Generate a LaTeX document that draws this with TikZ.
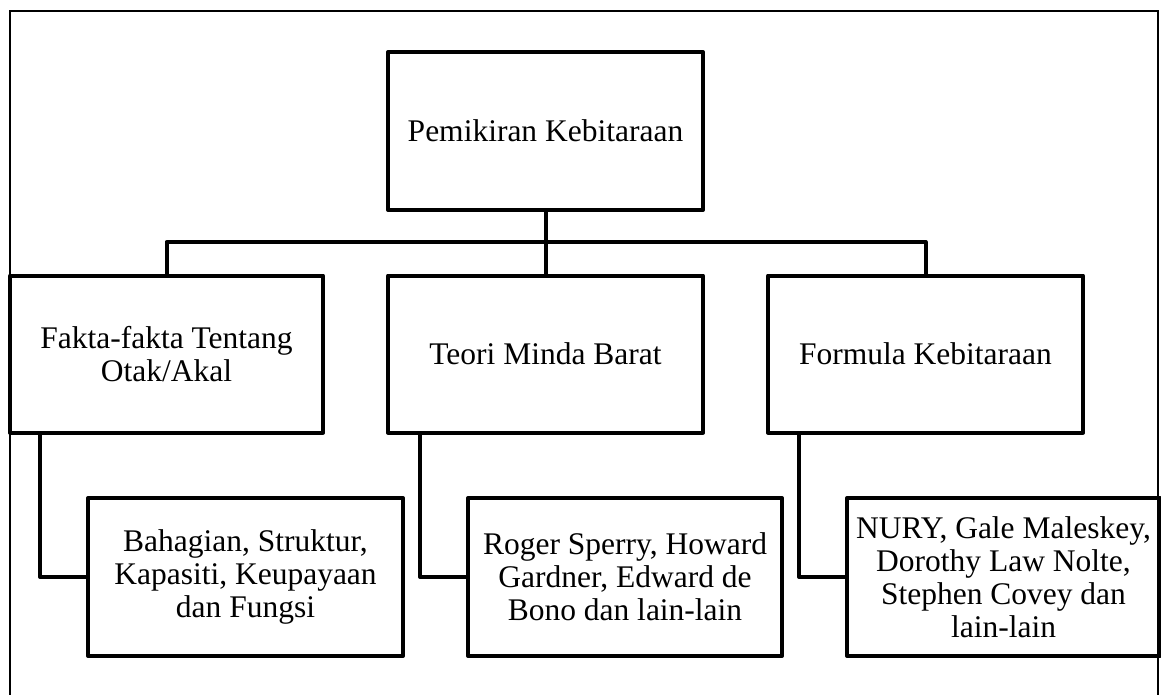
\documentclass[tikz,border=0pt]{standalone}
\usepackage{fontspec}
\setmainfont{Liberation Serif}
\begin{document}
\begin{tikzpicture}[x=1pt,y=-1pt,
		kotak/.style={draw,line width=4pt,line join=round,align=center,inner sep=0pt,
			minimum width=315pt,minimum height=157pt,font=\fontsize{31.5}{33}\selectfont},
		garis/.style={line width=4pt,line join=round}]
			\useasboundingbox (0,0) rectangle (1161,694);
			\draw [line width=1.3pt] (10,720) -- (10,11) -- (1158,11) -- (1158,720);
			
			\node [kotak,minimum height=158pt] (N0) at (545.5,131) {Pemikiran Kebitaraan};
			\node [kotak,minimum width=313pt] (N1) at (166.5,354) {Fakta-fakta Tentang\\Otak/Akal};
			\node [kotak] (N2) at (545.5,354) {Teori Minda Barat};
			\node [kotak] (N3) at (925.5,354) {Formula Kebitaraan};
			\node [kotak,minimum height=158pt] (N4) at (245.5,577) {Bahagian, Struktur,\\Kapasiti, Keupayaan\\dan Fungsi};
			\node [kotak,minimum height=158pt,minimum width=314pt] (N5) at (625,577) {Roger Sperry, Howard\\Gardner, Edward de\\Bono dan lain-lain};
			\node [kotak,minimum height=158pt,minimum width=313pt] (N6) at (1003.5,577) {NURY, Gale Maleskey,\\Dorothy Law Nolte,\\Stephen Covey dan\\lain-lain};
			\coordinate (bus) at (545.5,242);
			
			\draw [garis] (N0.south) -- (N2.north);
			\draw [garis] (N1.north) -- (N1.north |- bus) -- (N3.north |- bus) -- (N3.north);
			\draw [garis] ([xshift=32pt]N1.south west) |- (N4.west);
			\draw [garis] ([xshift=34pt]N2.south west) |- (N5.west);
			\draw [garis] ([xshift=33pt]N3.south west) |- (N6.west);
		\end{tikzpicture}
\end{document}
